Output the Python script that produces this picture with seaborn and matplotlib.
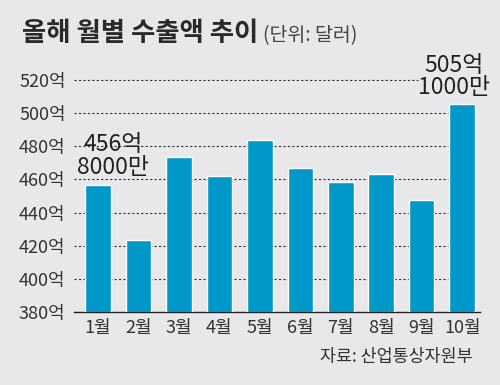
import matplotlib
matplotlib.use('Agg')
import matplotlib.pyplot as plt
import seaborn as sns
import pandas as pd

# 월별 수출액 (억 달러)
months = ['1월', '2월', '3월', '4월', '5월', '6월', '7월', '8월', '9월', '10월']
exports = [456.8, 423.5, 473.4, 461.8, 483.4, 467.0, 458.4, 463.0, 447.3, 505.1]
y_ticks = [380, 400, 420, 440, 460, 480, 500, 520]
callouts = {0: '456억\n8000만', 9: '505억\n1000만'}

bg = '#e8e8ea'
bar_color = '#0098c9'

sns.set_style('white')
plt.rcParams['font.family'] = ['Liberation Sans Narrow', 'Noto Sans CJK KR', 'DejaVu Sans']

df = pd.DataFrame({'month': months, 'value': exports})

fig = plt.figure(figsize=(5, 3.85), dpi=100, facecolor=bg)
ax = fig.add_axes([0.148, 0.1888, 0.812, 0.626])
ax.set_facecolor(bg)

sns.barplot(data=df, x='month', y='value', color=bar_color, saturation=1,
            width=0.63, ax=ax, zorder=3)

ax.set_ylim(380, 525)
ax.set_xlim(-0.59, 9.44)

# dotted grid lines, stop before the last bar
for t in y_ticks[1:]:
    right = 7.9 if t == 520 else 8.65
    ax.hlines(t, -0.59, right, colors='#333333', linestyles=(0, (2, 2)),
              linewidth=0.8, zorder=1)

ax.set_yticks(y_ticks)
ax.set_yticklabels([f'{t}억' for t in y_ticks], fontsize=13, color='#333333')
ax.tick_params(axis='both', length=0, pad=6)
ax.tick_params(axis='x', labelsize=13, labelcolor='#333333', pad=5)
ax.set_xlabel('')
ax.set_ylabel('')

for s in ['top', 'right', 'left']:
    ax.spines[s].set_visible(False)
ax.spines['bottom'].set_color('#222222')
ax.spines['bottom'].set_linewidth(1.0)

offsets = {0: (15, 6), 9: (-8, 5)}
for i, label in callouts.items():
    ax.annotate(label, xy=(i, exports[i]), xytext=offsets[i],
                textcoords='offset pixels', ha='center', va='bottom',
                fontsize=16.5, color='#222222', linespacing=0.98,
                zorder=5, annotation_clip=False)

fig.text(22 / 500, 1 - 41 / 385, '올해 월별 수출액 추이', fontsize=19,
         fontweight='bold', color='#2a2a2a', va='baseline', ha='left',
         family=['Noto Sans CJK KR', 'DejaVu Sans'])
fig.text(263 / 500, 1 - 41 / 385, '(단위: 달러)', fontsize=14,
         color='#444444', va='baseline', ha='left',
         family=['Noto Sans CJK KR', 'DejaVu Sans'])
fig.text(473 / 500, 1 - 357 / 385, '자료: 산업통상자원부', fontsize=12.5,
         color='#333333', va='center', ha='right',
         family=['Noto Sans CJK KR', 'DejaVu Sans'])

fig.savefig('out.png', dpi=100, facecolor=bg)
